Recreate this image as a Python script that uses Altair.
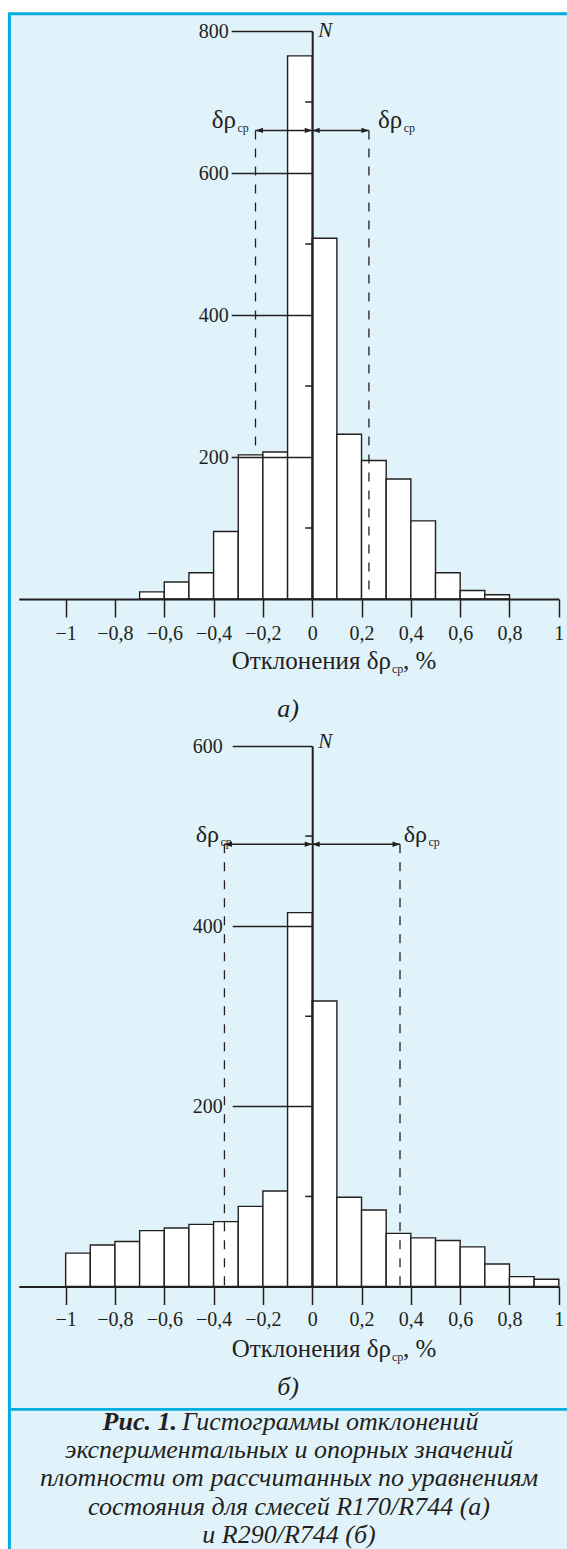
import altair as alt
import pandas as pd

INK = "#231f20"
PAPER = "#e1f3fa"
FRAME = "#00aede"
SERIF = "Liberation Serif"

# a) R170/R744 — bin edges (%) and counts
a_lo = [-0.7, -0.6, -0.5, -0.4, -0.3, -0.2, -0.1, 0.0, 0.1, 0.2, 0.3, 0.4, 0.5, 0.6, 0.7]
a_hi = [-0.6, -0.5, -0.4, -0.3, -0.2, -0.1, 0.0, 0.1, 0.2, 0.3, 0.4, 0.5, 0.6, 0.7, 0.8]
a_n = [10, 24, 37, 95, 203, 207, 765, 508, 232, 195, 169, 110, 37, 12, 6]
a_dev = 0.23          # mean deviation, marked by the dashed lines
a_arrow_n = 660       # level of the double arrows
a_y_major = [200, 400, 600, 800]
a_y_minor = [100, 300, 500, 700]

# b) R290/R744 — bin edges (%) and counts
b_lo = [-1.0, -0.9, -0.8, -0.7, -0.6, -0.5, -0.4, -0.3, -0.2, -0.1,
        0.0, 0.1, 0.2, 0.3, 0.4, 0.5, 0.6, 0.7, 0.8, 0.9]
b_hi = [-0.9, -0.8, -0.7, -0.6, -0.5, -0.4, -0.3, -0.2, -0.1, 0.0,
        0.1, 0.2, 0.3, 0.4, 0.5, 0.6, 0.7, 0.8, 0.9, 1.0]
b_n = [37, 46, 50, 62, 65, 69, 72, 89, 106, 415, 317, 99, 85, 59, 54, 51, 44, 25, 11, 8]
b_dev = 0.356
b_arrow_n = 491
b_y_major = [200, 400, 600]
b_y_minor = [100, 300, 500]

x_ticks = [-1.0, -0.8, -0.6, -0.4, -0.2, 0.0, 0.2, 0.4, 0.6, 0.8, 1.0]

caption_lines = [
    "экспериментальных и опорных значений",
    "плотности от рассчитанных по уравнениям",
    "состояния для смесей R170/R744 (а)",
    "и R290/R744 (б)",
]

one = pd.DataFrame({"k": [0]})

# arrowheads: tip at the origin
HEAD_R = "M0,0L-2,-0.72L-2,0.72Z"
HEAD_L = "M0,0L2,-0.72L2,0.72Z"


def text_px(txt, x, y, size, align="left", style="normal", weight="normal"):
    return alt.Chart(one).mark_text(
        text=txt, font=SERIF, fontSize=size, fontStyle=style, fontWeight=weight,
        align=align, baseline="alphabetic", color=INK,
    ).encode(x=alt.value(x), y=alt.value(y))


def panel(lo, hi, n, dev, arrow_n, y_major, y_minor, y_top, y_range,
          x_lab_pad, y_lab_pad, y_tick_len, left_dash_under,
          lab_l, lab_r, greek_size, n_dy, title_y, tag, tag_y):
    xs = alt.Scale(domain=[-1.19, 1.0], range=[18.8, 558.8], nice=False, zero=False)
    ys = alt.Scale(domain=[0, y_top], range=y_range, nice=False, zero=False)
    base_px = y_range[0]

    bars = alt.Chart(pd.DataFrame({"lo": lo, "hi": hi, "n": n})).mark_rect(
        fill="white", stroke=INK, strokeWidth=1.4
    ).encode(
        x=alt.X("lo:Q", scale=xs, axis=alt.Axis(
            orient="bottom", offset=base_px - 1549, values=x_ticks,
            tickSize=18, tickWidth=1.5, tickColor=INK,
            domainColor=INK, domainWidth=2,
            labelFont=SERIF, labelFontSize=20, labelColor=INK,
            labelPadding=x_lab_pad, labelFlush=False, labelOverlap=False,
            labelExpr="replace(format(datum.value, '~g'), '.', ',')",
            title=None, grid=False, zindex=1)),
        x2="hi:Q",
        y=alt.Y("n:Q", scale=ys, axis=alt.Axis(
            orient="left", offset=-312.2, values=y_major,
            tickSize=y_tick_len, tickWidth=1.5, tickColor=INK,
            domainColor=INK, domainWidth=2,
            labelFont=SERIF, labelFontSize=20, labelColor=INK,
            labelPadding=y_lab_pad, labelFlush=False,
            title=None, grid=False, zindex=1)),
        y2=alt.Y2Datum(0),
    )

    dash_df = pd.DataFrame({"x": [-dev, dev], "top": [arrow_n, arrow_n], "side": ["l", "r"]})

    def dash(side):
        return alt.Chart(dash_df).transform_filter(alt.datum.side == side).mark_rule(
            stroke=INK, strokeWidth=1.3, strokeDash=[9, 9]
        ).encode(
            x=alt.X("x:Q", scale=xs, axis=None),
            y=alt.Y("top:Q", scale=ys, axis=None),
            y2=alt.Y2Datum(0),
        )

    shafts = alt.Chart(pd.DataFrame({"a": [-dev, 0.0], "b": [0.0, dev], "lvl": [arrow_n, arrow_n]})).mark_rule(
        stroke=INK, strokeWidth=1.5
    ).encode(
        x=alt.X("a:Q", scale=xs, axis=None), x2="b:Q",
        y=alt.Y("lvl:Q", scale=ys, axis=None),
    )

    def heads(xs_list, path):
        return alt.Chart(pd.DataFrame({"x": xs_list, "lvl": [arrow_n] * len(xs_list)})).mark_point(
            shape=path, filled=True, size=56, color=INK, opacity=1, strokeWidth=0
        ).encode(
            x=alt.X("x:Q", scale=xs, axis=None),
            y=alt.Y("lvl:Q", scale=ys, axis=None),
        )

    minor = alt.Chart(pd.DataFrame({"v": y_minor})).mark_tick(
        orient="horizontal", size=7, thickness=1.5, color=INK, xOffset=-3.5, opacity=1
    ).encode(
        x=alt.XDatum(0, scale=xs, axis=None),
        y=alt.Y("v:Q", scale=ys, axis=None),
    )

    def anno(txt, xv, yv, dx, dy, size, align, style="normal"):
        return alt.Chart(one).mark_text(
            text=txt, font=SERIF, fontSize=size, fontStyle=style, align=align,
            baseline="alphabetic", color=INK, dx=dx, dy=dy,
        ).encode(
            x=alt.XDatum(xv, scale=xs, axis=None),
            y=alt.YDatum(yv, scale=ys, axis=None),
        )

    notes = [
        anno("N", 0, y_top, 6, n_dy, 21, "left", "italic"),
        anno("δρ", -dev, arrow_n, lab_l, -2, greek_size, "right"),
        anno("ср", -dev, arrow_n, lab_l + 1.5, 1.5, 12, "left"),
        anno("δρ", dev, arrow_n, lab_r, -2, greek_size, "right"),
        anno("ср", dev, arrow_n, lab_r + 1.5, 1.5, 12, "left"),
    ]

    titles = [
        text_px("Отклонения δρ", 391, title_y, 25, "right"),
        text_px("ср", 392, title_y + 4, 12, "left"),
        text_px(", %", 403, title_y, 25, "left"),
        text_px(tag, 288, tag_y, 26, "center", "italic"),
    ]

    layers = []
    if left_dash_under:
        layers += [dash("l"), bars, dash("r")]
    else:
        layers += [bars, dash("l"), dash("r")]
    layers += [shafts, heads([dev, 0.0], HEAD_R), heads([-dev, 0.0], HEAD_L), minor]
    layers += notes + titles
    return layers


layers_a = panel(a_lo, a_hi, a_n, a_dev, a_arrow_n, a_y_major, a_y_minor, 800, [599, 31],
                 6, 3, 81, True, -19.5, 33.3, 25, 6, 669, "а)", 717)
layers_b = panel(b_lo, b_hi, b_n, b_dev, b_arrow_n, b_y_major, b_y_minor, 600, [1286.5, 746],
                 4.5, 10, 80, False, -5.4, 27, 24, 1.5, 1357, "б)", 1395)

# framed light-blue sheet with a rule above the caption
frame = alt.Chart(one).mark_rect(fill=PAPER, stroke=FRAME, strokeWidth=3).encode(
    x=alt.value(9.4), x2=alt.value(572), y=alt.value(13.7), y2=alt.value(1555)
)
divider = alt.Chart(one).mark_rule(stroke=FRAME, strokeWidth=2.7).encode(
    x=alt.value(9.4), x2=alt.value(567), y=alt.value(1409.3)
)

caption = [
    text_px("Рис. 1.", 177, 1430, 26, "right", "italic", "bold"),
    text_px("Гистограммы отклонений", 182, 1430, 26, "left", "italic"),
]
for i, line in enumerate(caption_lines):
    caption.append(text_px(line, 289, 1458.2 + 28.2 * i, 26, "center", "italic"))

chart = alt.layer(frame, divider, *layers_a, *layers_b, *caption).resolve_scale(
    x="independent", y="independent"
).properties(
    width=567, height=1549, padding=0,
    autosize=alt.AutoSizeParams(type="none"),
    background="white",
).configure_view(stroke=None)

chart.save("out.html", embed_options={"renderer": "svg", "actions": False})
